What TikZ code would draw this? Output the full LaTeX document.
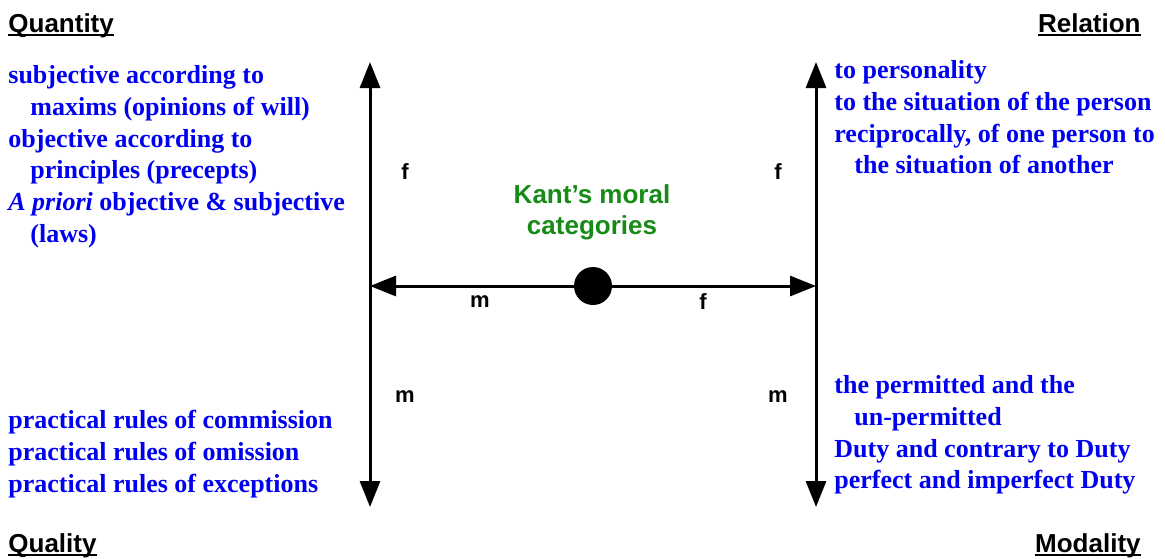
\documentclass[tikz,border=0pt]{standalone}
\usepackage{fontspec}
\setmainfont{Liberation Sans}
\newfontfamily\kantserif{Liberation Serif}
\usepackage{xcolor}
\usepackage{tikz}
\usetikzlibrary{arrows.meta, positioning}
\definecolor{kBlue}{HTML}{0000F0}
\definecolor{kGreen}{HTML}{178A17}
\newsavebox\headbox
\newcommand\headline[1]{\sbox\headbox{#1}\rlap{\usebox\headbox}\rule[-1.8pt]{\wd\headbox}{0.9pt}}

\tikzset{
  catText/.style={text=kBlue, font=\kantserif\bfseries\fontsize{13}{15.9}\selectfont,
                  align=left, inner sep=0pt, anchor=north west},
  heading/.style={font=\bfseries\fontsize{13}{15}\selectfont, inner sep=0pt},
  tag/.style={font=\bfseries\fontsize{11}{13}\selectfont, inner sep=0pt},
  catAxis/.style={line width=1.5pt, -{Triangle[length=13pt,width=10pt]}},
  catAxisBoth/.style={line width=1.5pt, {Triangle[length=13pt,width=10pt]}-{Triangle[length=13pt,width=10pt]}},
}

\begin{document}
\begin{tikzpicture}[x=0.5pt, y=-0.5pt]
  \useasboundingbox (0,0) rectangle (1165,558);

  % the four headings
  \node[heading, anchor=base west] (quantity) at (8,32) {\headline{Quantity}};
  \node[heading, anchor=base east] (relation) at (1141,32) {\headline{Relation}};
  \node[heading, anchor=base west] (quality) at (8,552) {\headline{Quality}};
  \node[heading, anchor=base east] (modality) at (1141,552) {\headline{Modality}};

  % axes
  \coordinate (ltop) at (370,62);
  \coordinate (lbot) at (370,507);
  \coordinate (rtop) at (816,62);
  \coordinate (rbot) at (816,507);
  \coordinate (lmid) at (370,286);
  \coordinate (rmid) at (816,286);
  \draw[catAxisBoth] (lbot) -- (ltop);
  \draw[catAxisBoth] (rbot) -- (rtop);
  \node[circle, fill=black, inner sep=0pt, minimum size=19pt] (hub) at (593,286) {};
  \draw[catAxis] (hub) -- (lmid);
  \draw[catAxis] (hub) -- (rmid);

  \node[text=kGreen, font=\bfseries\fontsize{13}{15.5}\selectfont, align=center,
        inner sep=0pt, anchor=north] (title) at (592,184) {Kant's moral\\categories};

  % f / m marks
  \node[tag] (fql) at (405,172) {f};
  \node[tag] (fqr) at (778,172) {f};
  \node[tag] (mh) at (480,302) {m};
  \node[tag] (fh) at (703,302) {f};
  \node[tag] (mql) at (405,397) {m};
  \node[tag] (mqr) at (778,397) {m};

  % category texts
  \node[catText] (quantityText) at (8,65) {subjective according to\\
    \hspace*{11pt}maxims (opinions of will)\\
    objective according to\\
    \hspace*{11pt}principles (precepts)\\
    \textit{A priori} objective \& subjective\\
    \hspace*{11pt}(laws)};
  \node[catText] (qualityText) at (8,410) {practical rules of commission\\
    practical rules of omission\\
    practical rules of exceptions};
  \node[catText] (relationText) at (834,60) {to personality\\
    to the situation of the person\\
    reciprocally, of one person to\\
    \hspace*{10pt}the situation of another};
  \node[catText] (modalityText) at (834,375) {the permitted and the\\
    \hspace*{10pt}un-permitted\\
    Duty and contrary to Duty\\
    perfect and imperfect Duty};
\end{tikzpicture}
\end{document}
